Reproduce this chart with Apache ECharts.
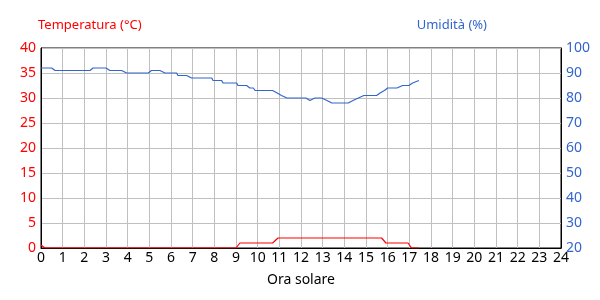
<!DOCTYPE html>
<html>
<head>
<meta charset="utf-8">
<script src="https://cdn.jsdelivr.net/npm/echarts@6/dist/echarts.min.js"></script>
<style>html,body{margin:0;padding:0;background:#fff}#c{width:600px;height:300px}</style>
</head>
<body>
<div id="c"></div>
<script>
// Hour ticks on the x axis
const hourTicks = [0,1,2,3,4,5,6,7,8,9,10,11,12,13,14,15,16,17,18,19,20,21,22,23,24];
// Temperature (°C): breakpoints [hour, value]
const tempHours  = [0, 0.18, 9.0, 9.18, 10.69, 10.94, 15.72, 15.92, 16.94, 17.1, 17.44];
const tempValues = [0.6, 0, 0, 1, 1, 2, 2, 1, 1, 0, 0];
// Humidity (%): breakpoints [hour, value]
const humHours  = [0, 0.49, 0.65, 2.26, 2.4, 3.0, 3.18, 3.72, 3.95, 4.95, 5.1, 5.49, 5.72, 6.26, 6.32, 6.72, 6.95, 7.88, 7.94, 8.34, 8.4, 9.03, 9.09, 9.49, 9.64, 9.8, 9.88, 10.69, 10.9, 11.1, 11.35, 12.23, 12.41, 12.64, 12.95, 13.2, 13.42, 14.18, 14.4, 14.65, 14.9, 15.49, 15.65, 15.85, 16.0, 16.43, 16.69, 16.98, 17.15, 17.44];
const humValues = [92, 92, 91, 91, 92, 92, 91, 91, 90, 90, 91, 91, 90, 90, 89, 89, 88, 88, 87, 87, 86, 86, 85, 85, 84, 84, 83, 83, 82, 81, 80, 80, 79, 80, 80, 79, 78, 78, 79, 80, 81, 81, 82, 83, 84, 84, 85, 85, 86, 87];

const FONT = 'Noto Sans';
const tempData = tempHours.map((h, i) => [h, tempValues[i]]);
const humData = humHours.map((h, i) => [h, humValues[i]]);

const chart = echarts.init(document.getElementById('c'), null, {renderer: 'canvas'});
chart.setOption({
  animation: false,
  textStyle: {fontFamily: FONT},
  title: [
    {text: 'Temperatura (°C)', left: 33, top: 14, textStyle: {color: '#ff0000', fontSize: 13, fontWeight: 'normal', fontFamily: FONT}},
    {text: 'Umidità (%)', right: 108, top: 14, textStyle: {color: '#3366cc', fontSize: 13, fontWeight: 'normal', fontFamily: FONT}}
  ],
  grid: {left: 41, right: 39, top: 48, bottom: 52, show: true, borderColor: '#000', borderWidth: 1, backgroundColor: 'transparent'},
  xAxis: {
    type: 'value', min: 0, max: 24, interval: 1,
    name: 'Ora solare', nameLocation: 'middle', nameGap: 25,
    nameTextStyle: {color: '#000', fontSize: 14, fontFamily: FONT},
    axisLine: {show: true, lineStyle: {color: '#000'}},
    axisTick: {show: false},
    axisLabel: {color: '#000', fontSize: 14, margin: 3, fontFamily: FONT,
      formatter: v => hourTicks.includes(v) ? String(v) : ''},
    splitLine: {show: true, lineStyle: {color: '#c0c0c0', width: 1}}
  },
  yAxis: [
    {type: 'value', min: 0, max: 40, interval: 5, position: 'left',
     axisLine: {show: true, lineStyle: {color: '#000'}}, axisTick: {show: false},
     axisLabel: {color: '#ff0000', fontSize: 14, margin: 5, fontFamily: FONT},
     splitLine: {show: true, lineStyle: {color: '#c0c0c0', width: 1}}},
    {type: 'value', min: 20, max: 100, interval: 10, position: 'right',
     axisLine: {show: true, lineStyle: {color: '#000'}}, axisTick: {show: false},
     axisLabel: {color: '#3366cc', fontSize: 14, margin: 5, fontFamily: FONT},
     splitLine: {show: false}}
  ],
  series: [
    {type: 'line', yAxisIndex: 1, data: humData, showSymbol: false, symbol: 'none',
     lineStyle: {color: '#3366cc', width: 1.2}, z: 3},
    {type: 'line', yAxisIndex: 0, data: tempData, showSymbol: false, symbol: 'none',
     lineStyle: {color: '#ff0000', width: 1.2}, z: 4}
  ]
});
</script>
</body>
</html>
